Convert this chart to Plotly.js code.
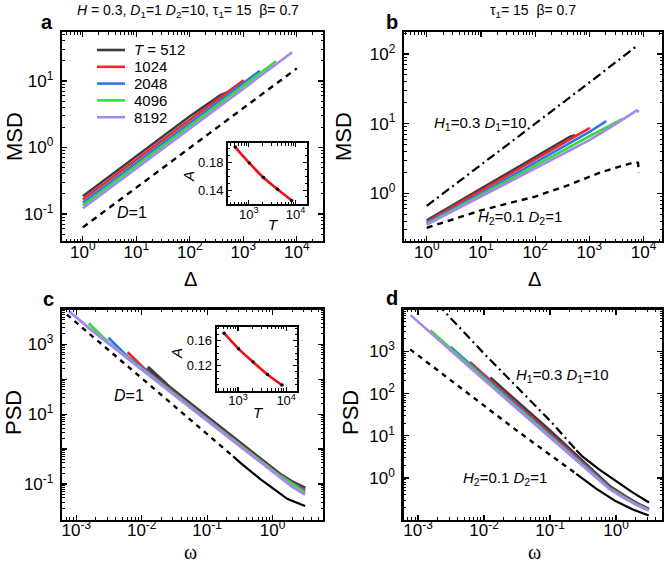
<!DOCTYPE html>
<html>
<head>
<meta charset="utf-8">
<script src="https://cdn.plot.ly/plotly-3.0.1.min.js"></script>
<style>
  body { margin: 0; background: #fff; }
  #chart { width: 665px; height: 566px; }
</style>
</head>
<body>
<div id="chart"></div>
<script>
// ---- data ----
var tValues = [512, 1024, 2048, 4096, 8192];
var tLabels = ["<i>T</i> = 512", "1024", "2048", "4096", "8192"];
var colors = ["#3d3d3d", "#f0262d", "#3373ea", "#35dc35", "#a787ee"];

// panel a: MSD vs lag, H = 0.3
var lagA512 = [1, 10, 100, 380, 470, 512];
var msdA512 = [0.185, 0.75, 2.95, 6.2, 6.7, 6.8];
var lagA1024 = [1, 10, 100, 1024];
var msdA1024 = [0.165, 0.66, 2.62, 10.3];
var lagA2048 = [1, 10, 100, 1000, 2048];
var msdA2048 = [0.148, 0.59, 2.35, 9.3, 14.3];
var lagA4096 = [1, 10, 100, 1000, 4096];
var msdA4096 = [0.134, 0.53, 2.13, 8.5, 19.8];
var lagA8192 = [1, 10, 100, 1000, 8192];
var msdA8192 = [0.122, 0.486, 1.93, 7.7, 27];
var lagAD1 = [1, 10, 100, 1000, 10000];
var msdAD1 = [0.063, 0.25, 1.0, 3.95, 15.5];

// panel b: MSD vs lag, two-state model
var lagB512 = [1, 10, 100, 440, 550];
var msdB512 = [0.41, 1.17, 3.33, 6.5, 6.8];
var lagB1024 = [1, 10, 100, 1024];
var msdB1024 = [0.39, 1.1, 3.1, 8.7];
var lagB2048 = [1, 10, 100, 1000, 2048];
var msdB2048 = [0.375, 1.0, 2.75, 7.6, 10.9];
var lagB4096 = [1, 10, 100, 1000, 4096];
var msdB4096 = [0.36, 0.94, 2.5, 6.6, 11.7];
var lagB8192 = [1, 10, 100, 1000, 3000, 7500, 8192];
var msdB8192 = [0.355, 0.9, 2.3, 5.8, 9.8, 15.5, 14.8];
var lagBH1 = [1, 10, 100, 1000, 4300, 7000, 8192];
var msdBH1 = [0.66, 2.6, 10, 39, 95, 125, 130];
var lagBH2 = [1, 10, 100, 400, 1600, 3700, 6800, 7900, 8192];
var msdBH2 = [0.32, 0.57, 0.9, 1.3, 2.0, 2.45, 2.8, 2.75, 2.0];

// panel c: PSD vs frequency, H = 0.3
var omegaC8192 = [7.7e-4, 1.55e-3, 3.1e-3, 6.1e-3, 0.0123, 0.025, 0.05, 0.1, 0.2, 0.4, 0.8, 1.3, 2.0, 3.14];
var psdC8192 = [8900, 2950, 1070, 390, 141, 49, 17.8, 6.5, 2.34, 0.85, 0.31, 0.15, 0.083, 0.05];
var omegaC4096 = [1.55e-3, 3.1e-3, 6.1e-3, 0.0123, 0.025, 0.05, 0.1, 0.2, 0.4, 0.8, 1.3, 2.0, 3.14];
var psdC4096 = [4000, 1120, 410, 150, 53, 19, 6.9, 2.5, 0.91, 0.33, 0.168, 0.1, 0.056];
var omegaC2048 = [3.1e-3, 6.1e-3, 0.0123, 0.025, 0.05, 0.1, 0.2, 0.4, 0.8, 1.3, 2.0, 3.14];
var psdC2048 = [1550, 440, 158, 55, 19.6, 7.1, 2.57, 0.93, 0.34, 0.172, 0.103, 0.061];
var omegaC1024 = [6.1e-3, 0.0123, 0.025, 0.05, 0.1, 0.2, 0.4, 0.8, 1.3, 2.0, 3.14];
var psdC1024 = [590, 165, 58, 20.5, 7.4, 2.65, 0.96, 0.35, 0.178, 0.107, 0.067];
var omegaC512 = [0.0123, 0.025, 0.05, 0.1, 0.2, 0.4, 0.8, 1.3, 2.0, 3.14];
var psdC512 = [220, 64, 22.5, 8.0, 2.85, 1.02, 0.37, 0.185, 0.112, 0.075];
var omegaCD1 = [7.2e-4, 3.2e-3, 0.01, 0.0316, 0.1, 0.25, 0.32, 0.65, 1.7, 3.14];
var psdCD1 = [7080, 676, 107, 17, 2.7, 0.62, 0.41, 0.138, 0.037, 0.0234];

// panel d: PSD vs frequency, two-state model
var omegaD8192 = [7.7e-4, 1.55e-3, 3.1e-3, 6.1e-3, 0.0123, 0.025, 0.05, 0.1, 0.2, 0.4, 0.8, 1.3, 2.0, 3.14];
var psdD8192 = [7240, 2820, 1070, 417, 158, 60, 23.4, 9.1, 3.55, 1.41, 0.54, 0.34, 0.234, 0.17];
var omegaD4096 = [1.55e-3, 3.1e-3, 6.1e-3, 0.0123, 0.025, 0.05, 0.1, 0.2, 0.4, 0.8, 1.3, 2.0, 3.14];
var psdD4096 = [3150, 1180, 460, 175, 65, 25.3, 9.8, 3.75, 1.5, 0.56, 0.355, 0.24, 0.174];
var omegaD2048 = [3.1e-3, 6.1e-3, 0.0123, 0.025, 0.05, 0.1, 0.2, 0.4, 0.8, 1.3, 2.0, 3.14];
var psdD2048 = [1300, 505, 192, 71, 27, 10.4, 3.95, 1.57, 0.58, 0.365, 0.245, 0.176];
var omegaD1024 = [6.1e-3, 0.0123, 0.025, 0.05, 0.1, 0.2, 0.4, 0.8, 1.3, 2.0, 3.14];
var psdD1024 = [560, 212, 79, 30.5, 11.4, 4.25, 1.65, 0.6, 0.375, 0.25, 0.178];
var omegaD512 = [0.0123, 0.025, 0.05, 0.1, 0.2, 0.4, 0.8, 1.3, 2.0, 3.14];
var psdD512 = [235, 90, 35, 13, 4.75, 1.77, 0.63, 0.385, 0.255, 0.18];
var omegaDH1 = [2e-3, 2.5e-3, 0.01, 0.0316, 0.1, 0.25, 0.316, 0.56, 1.0, 1.78, 3.16];
var psdDH1 = [13200, 8900, 890, 141, 22.9, 4.57, 3.16, 1.58, 0.83, 0.457, 0.263];
var omegaDH2 = [7.6e-4, 3.2e-3, 0.01, 0.0316, 0.1, 0.25, 0.5, 1.0, 1.8, 3.14];
var psdDH2 = [1120, 200, 50, 13.2, 3.55, 1.26, 0.56, 0.28, 0.18, 0.13];

// insets: amplitude A vs T
var insetAValues = [0.202, 0.179, 0.158, 0.141, 0.125];
var insetCValues = [0.172, 0.147, 0.126, 0.106, 0.089];

// tick labels
var lagTicks = [1, 10, 100, 1000, 10000];
var lagTickText = ["10<sup>0</sup>", "10<sup>1</sup>", "10<sup>2</sup>", "10<sup>3</sup>", "10<sup>4</sup>"];
var msdTicksA = [0.1, 1, 10];
var msdTickTextA = ["10<sup>-1</sup>", "10<sup>0</sup>", "10<sup>1</sup>"];
var msdTicksB = [1, 10, 100];
var msdTickTextB = ["10<sup>0</sup>", "10<sup>1</sup>", "10<sup>2</sup>"];
var omegaTicks = [0.001, 0.01, 0.1, 1];
var omegaTickText = ["10<sup>-3</sup>", "10<sup>-2</sup>", "10<sup>-1</sup>", "10<sup>0</sup>"];
var psdTicksC = [0.01, 0.1, 1, 10, 100, 1000];
var psdTickTextC = ["", "10<sup>-1</sup>", "", "10<sup>1</sup>", "", "10<sup>3</sup>"];
var psdTicksD = [1, 10, 100, 1000];
var psdTickTextD = ["10<sup>0</sup>", "10<sup>1</sup>", "10<sup>2</sup>", "10<sup>3</sup>"];
var insetTTicks = [1000, 10000];
var insetTTickText = ["10<sup>3</sup>", "10<sup>4</sup>"];

var W = 665, H = 566;
var FONT = "Liberation Sans, Arial, sans-serif";

function line(x, y, color, width, dash, xa, ya) {
    return {
        x: x, y: y, type: "scatter", mode: "lines",
        line: { color: color, width: width, dash: dash || "solid" },
        xaxis: xa, yaxis: ya, showlegend: false, hoverinfo: "skip"
    };
}

// split a theory curve into a dashed low-frequency part and a solid tail
function splitAt(xs, ys, cut, lowPart) {
    var ox = [], oy = [];
    for (var i = 0; i < xs.length; i++) {
        if ((lowPart && xs[i] <= cut) || (!lowPart && xs[i] >= cut)) {
            ox.push(xs[i]); oy.push(ys[i]);
        }
    }
    return [ox, oy];
}

var data = [];

var lagA = [lagA512, lagA1024, lagA2048, lagA4096, lagA8192];
var msdA = [msdA512, msdA1024, msdA2048, msdA4096, msdA8192];
var lagB = [lagB512, lagB1024, lagB2048, lagB4096, lagB8192];
var msdB = [msdB512, msdB1024, msdB2048, msdB4096, msdB8192];
var omegaC = [omegaC512, omegaC1024, omegaC2048, omegaC4096, omegaC8192];
var psdC = [psdC512, psdC1024, psdC2048, psdC4096, psdC8192];
var omegaD = [omegaD512, omegaD1024, omegaD2048, omegaD4096, omegaD8192];
var psdD = [psdD512, psdD1024, psdD2048, psdD4096, psdD8192];

for (var k = 0; k < tValues.length; k++) {
    data.push(line(lagA[k], msdA[k], colors[k], 2.6, null, "x", "y"));
}
data.push(line(lagAD1, msdAD1, "black", 2.4, "6px,5px", "x", "y"));

for (k = 0; k < tValues.length; k++) {
    data.push(line(lagB[k], msdB[k], colors[k], 2.6, null, "x2", "y2"));
}
data.push(line(lagBH1, msdBH1, "black", 2.2, "9px,4px,2px,4px", "x2", "y2"));
data.push(line(lagBH2, msdBH2, "black", 2.4, "6px,5px", "x2", "y2"));

var cLow = splitAt(omegaCD1, psdCD1, 0.25, true), cHigh = splitAt(omegaCD1, psdCD1, 0.25, false);
data.push(line(cLow[0], cLow[1], "black", 2.4, "5px,5px", "x3", "y3"));
data.push(line(cHigh[0], cHigh[1], "black", 2.2, null, "x3", "y3"));
for (k = 0; k < tValues.length; k++) {
    data.push(line(omegaC[k], psdC[k], colors[k], k === 0 ? 4 : 2.8, null, "x3", "y3"));
}

var d1Low = splitAt(omegaDH1, psdDH1, 0.25, true), d1High = splitAt(omegaDH1, psdDH1, 0.25, false);
var d2Low = splitAt(omegaDH2, psdDH2, 0.25, true), d2High = splitAt(omegaDH2, psdDH2, 0.25, false);
data.push(line(d1Low[0], d1Low[1], "black", 2.2, "9px,4px,2px,4px", "x4", "y4"));
data.push(line(d1High[0], d1High[1], "black", 2.2, null, "x4", "y4"));
data.push(line(d2Low[0], d2Low[1], "black", 2.4, "5px,5px", "x4", "y4"));
data.push(line(d2High[0], d2High[1], "black", 2.2, null, "x4", "y4"));
for (k = 0; k < tValues.length; k++) {
    data.push(line(omegaD[k], psdD[k], colors[k], k === 0 ? 3.6 : 2.6, null, "x4", "y4"));
}

// insets
[["x5", "y5", insetAValues], ["x6", "y6", insetCValues]].forEach(function (s) {
    data.push({
        x: tValues, y: s[2], type: "scatter", mode: "lines",
        line: { color: "#ee1111", width: 2.6, shape: "spline" },
        xaxis: s[0], yaxis: s[1], showlegend: false, hoverinfo: "skip"
    });
    data.push({
        x: tValues, y: s[2], type: "scatter", mode: "markers",
        marker: { color: "black", size: 3.5 },
        xaxis: s[0], yaxis: s[1], showlegend: false, hoverinfo: "skip"
    });
});

function px(v) { return v / W; }
function py(v) { return 1 - v / H; }

function logAxis(range, dom, anchor, tickvals, ticktext, isY) {
    return {
        type: "log", range: range, domain: dom, anchor: anchor,
        tickmode: "array", tickvals: tickvals, ticktext: ticktext,
        ticks: "inside", ticklen: 5, tickwidth: 1.2, tickcolor: "black",
        minor: { ticks: "inside", ticklen: 2.5, tickwidth: 1, tickcolor: "black", dtick: "D1", showgrid: false },
        mirror: "allticks", showline: true, linewidth: 2.2, linecolor: "black",
        showgrid: false, zeroline: false,
        tickfont: { family: FONT, size: 17, color: "black" },
        ticklabelstandoff: isY ? 3 : -6
    };
}

function insetX(dom, anchor) {
    var ax = logAxis([2.555, 4.232], dom, anchor, insetTTicks, insetTTickText, false);
    ax.tickfont = { family: FONT, size: 13, color: "black" };
    ax.ticklen = 4;
    ax.linewidth = 2;
    ax.ticklabelstandoff = -3;
    return ax;
}
function insetY(range, dom, anchor, tickvals) {
    return {
        range: range, domain: dom, anchor: anchor,
        tickmode: "array", tickvals: tickvals, ticktext: tickvals.map(function (v) { return v.toFixed(2); }),
        ticks: "inside", ticklen: 4, tickcolor: "black",
        minor: { ticks: "inside", ticklen: 2, dtick: 0.01, tickcolor: "black", showgrid: false },
        mirror: "allticks", showline: true, linewidth: 2, linecolor: "black",
        showgrid: false, zeroline: false,
        tickfont: { family: FONT, size: 13, color: "black" }
    };
}

function ann(x, y, text, size, opts) {
    var a = {
        x: px(x), y: py(y), xref: "paper", yref: "paper", text: text, showarrow: false,
        xanchor: "center", yanchor: "middle",
        font: { family: FONT, size: size, color: "black" }
    };
    for (var key in (opts || {})) a[key] = opts[key];
    return a;
}

var topDom = [py(241), py(32)];
var botDom = [py(519.5), py(309.5)];
var serif = { family: "Liberation Serif, serif", size: 20, color: "black" };

var annotations = [
    ann(188, 11, "<i>H</i> = 0.3, <i>D</i><sub>1</sub>=1 <i>D</i><sub>2</sub>=10, τ<sub>1</sub>= 15 \u00a0β= 0.7", 14),
    ann(533, 11, "τ<sub>1</sub>= 15 \u00a0β= 0.7", 14),
    ann(47, 22, "<b>a</b>", 20),
    ann(392, 22, "<b>b</b>", 20),
    ann(48, 299, "<b>c</b>", 20),
    ann(392, 298, "<b>d</b>", 20),
    ann(15, 137, "MSD", 22, { textangle: -90 }),
    ann(344, 137, "MSD", 22, { textangle: -90 }),
    ann(13, 413, "PSD", 22, { textangle: -90 }),
    ann(350, 413, "PSD", 22, { textangle: -90 }),
    ann(191, 279, "Δ", 20),
    ann(534, 279, "Δ", 20),
    ann(191, 552, "ω", 20, { font: serif }),
    ann(534, 552, "ω", 20, { font: serif }),
    ann(132, 212, "<i>D</i>=1", 16),
    ann(129, 395, "<i>D</i>=1", 16),
    ann(480, 123, "<i>H</i><sub>1</sub>=0.3 <i>D</i><sub>1</sub>=10", 15),
    ann(520, 217, "<i>H</i><sub>2</sub>=0.1 <i>D</i><sub>2</sub>=1", 15),
    ann(562, 375, "<i>H</i><sub>1</sub>=0.3 <i>D</i><sub>1</sub>=10", 15),
    ann(505, 478, "<i>H</i><sub>2</sub>=0.1 <i>D</i><sub>2</sub>=1", 15),
    ann(188, 177, "<i>A</i>", 15, { textangle: -90 }),
    ann(273, 225, "<i>T</i>", 15),
    ann(176, 353, "<i>A</i>", 15, { textangle: -90 }),
    ann(258, 412, "<i>T</i>", 15)
];

// legend of panel a: line sample + label for each series
var shapes = [];
for (k = 0; k < tValues.length; k++) {
    var rowY = 50 + k * 16.8;
    shapes.push({
        type: "line", xref: "paper", yref: "paper",
        x0: px(97), x1: px(125), y0: py(rowY), y1: py(rowY),
        line: { color: colors[k], width: 2.6 }
    });
    annotations.push(ann(132, rowY, tLabels[k], 15, { xanchor: "left" }));
}

var layout = {
    width: W, height: H,
    margin: { l: 0, r: 0, t: 0, b: 0 },
    paper_bgcolor: "white", plot_bgcolor: "rgba(0,0,0,0)",
    font: { family: FONT, color: "black" },
    showlegend: false,
    xaxis: logAxis([-0.39, 4.49], [px(62), px(323)], "y", lagTicks, lagTickText, false),
    yaxis: logAxis([-1.406, 1.737], topDom, "x", msdTicksA, msdTickTextA, true),
    xaxis2: logAxis([-0.42, 4.34], [px(404), px(662)], "y2", lagTicks, lagTickText, false),
    yaxis2: logAxis([-0.684, 2.316], topDom, "x2", msdTicksB, msdTickTextB, true),
    xaxis3: logAxis([-3.218, 0.771], [px(62), px(323)], "y3", omegaTicks, omegaTickText, false),
    yaxis3: logAxis([-2.017, 3.997], botDom, "x3", psdTicksC, psdTickTextC, true),
    xaxis4: logAxis([-3.22, 0.697], [px(403.5), px(662)], "y4", omegaTicks, omegaTickText, false),
    yaxis4: logAxis([-0.983, 3.993], botDom, "x4", psdTicksD, psdTickTextD, true),
    xaxis5: insetX([px(228), px(306.5)], "y5"),
    yaxis5: insetY([0.1198, 0.2074], [py(204), py(143.3)], "x5", [0.14, 0.18]),
    xaxis6: insetX([px(216.7), px(297.3)], "y6"),
    yaxis6: insetY([0.08, 0.1824], [py(390.7), py(326.7)], "x6", [0.12, 0.16]),
    annotations: annotations,
    shapes: shapes
};

Plotly.newPlot("chart", data, layout, { displayModeBar: false, staticPlot: true });
</script>
</body>
</html>
